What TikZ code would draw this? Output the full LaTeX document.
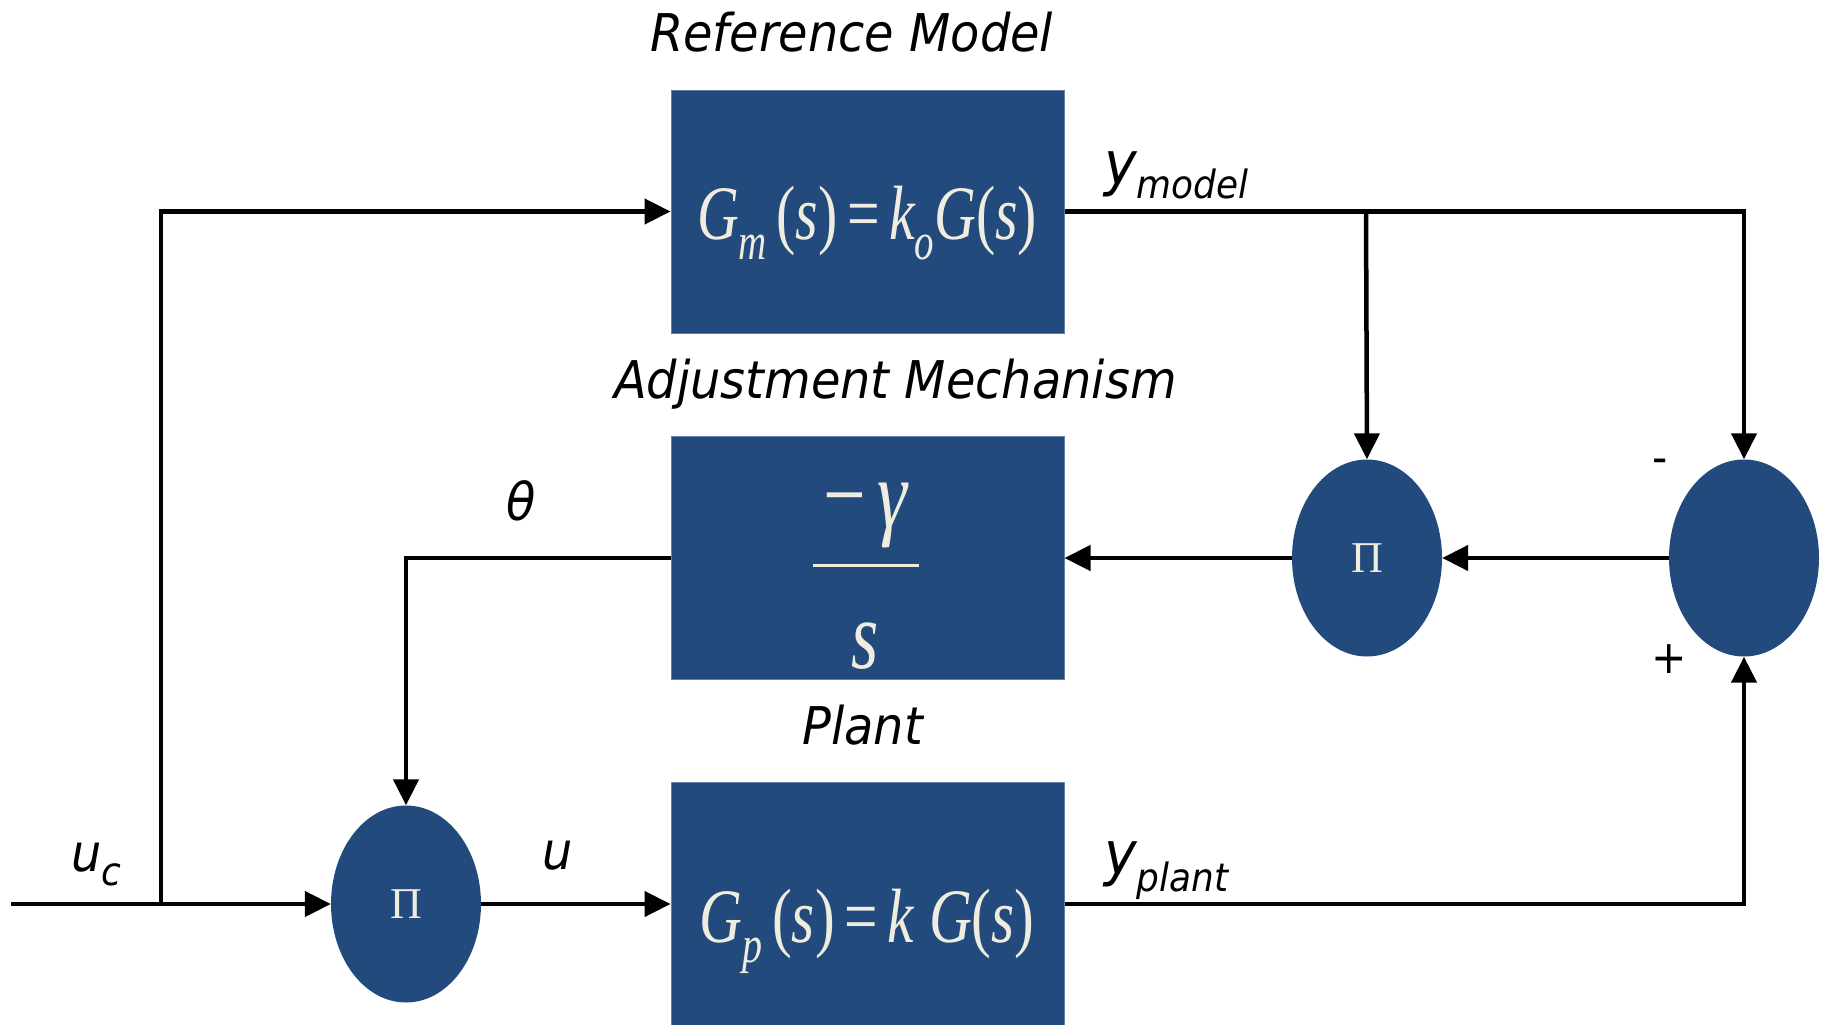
\documentclass[tikz,border=0pt]{standalone}
\usepackage{fontspec}
\usepackage{graphicx}
\usetikzlibrary{arrows.meta,shapes.geometric}
\newfontfamily\labf[FakeStretch=0.92]{DejaVu Sans}
\newfontfamily\tff{Liberation Serif}
\definecolor{boxblue}{HTML}{224A7C}
\definecolor{cream}{HTML}{EFECE0}
\begin{document}
\begin{tikzpicture}[x=1pt,y=-1pt,
  blk/.style={rectangle, fill=boxblue, draw=boxblue!70!white, line width=1pt, minimum width=393pt, minimum height=243pt, inner sep=0pt},
  oval/.style={ellipse, fill=boxblue, minimum width=150pt, minimum height=197pt, inner sep=0pt, text=cream, font=\tff\fontsize{44}{44}\selectfont},
  tftext/.style={text=cream, inner sep=0pt, anchor=base, font=\tff},
  wire/.style={line width=4.5pt, line join=miter},
  conn/.style={wire, -{Triangle[length=26pt,width=25pt]}},
  lab/.style={font=\labf\itshape\fontsize{52}{52}\selectfont, inner sep=0pt},
  sgn/.style={font=\labf\fontsize{46}{46}\selectfont, inner sep=0pt}]

\useasboundingbox (0,0) rectangle (1828,1025);

% blocks
\node[blk] (ref) at (867.5,211.5) {};
\node[blk] (adj) at (867.5,558) {};
\node[blk] (plant) at (867.5,904) {};

\node[tftext] (gm) at (867,239) {\resizebox{340pt}{\height}{\fontsize{77}{77}\selectfont\itshape G\raisebox{-20pt}{\fontsize{52}{52}\selectfont m}\,{\upshape(}s{\upshape)}\,{\upshape=}\,k\raisebox{-20pt}{\fontsize{52}{52}\selectfont o}G{\upshape(}s{\upshape)}}};
\node[tftext] (gp) at (867,942) {\resizebox{335pt}{\height}{\fontsize{77}{77}\selectfont\itshape G\raisebox{-20pt}{\fontsize{52}{52}\selectfont p}\,{\upshape(}s{\upshape)}\,{\upshape=}\,k\ G{\upshape(}s{\upshape)}}};
\node[tftext] (num) at (866,527) {\scalebox{0.78}[1]{\fontsize{97}{97}\selectfont −\hspace{14pt}\textit{γ}}};
\node[tftext] (den) at (865,668) {\scalebox{0.72}[1]{\fontsize{97}{97}\selectfont\textit{s}}};
\draw[cream, line width=3pt] (813,565) -- (919,565);

% ellipses
\node[oval] (lpi) at (406,904) {Π};
\node[oval] (rpi) at (1367,558) {Π};
\node[oval] (sum) at (1744,558) {};

% labels
\node[lab, anchor=base west] (reflab) at (650,52) {Reference Model};
\node[lab, anchor=base west] (adjlab) at (614,398) {Adjustment Mechanism};
\node[lab, anchor=base west] (plantlab) at (802,744) {Plant};
\node[lab, anchor=base west] (ym) at (1104,184) {\fontsize{60}{60}\selectfont y\raisebox{-14pt}{\fontsize{39}{39}\selectfont model}};
\node[lab, anchor=base west] (yp) at (1104,874) {\fontsize{60}{60}\selectfont y\raisebox{-17pt}{\fontsize{39}{39}\selectfont plant}};
\node[lab] (th) at (521,501) {θ};
\node[lab, anchor=base] (ulab) at (558,869) {u};
\node[lab, anchor=base west] (uclab) at (71,871) {u\raisebox{-14pt}{\fontsize{39}{39}\selectfont c}};
\node[sgn] (minus) at (1660,466) {-};
\node[sgn] (plus) at (1669,659) {+};

% connectors
\coordinate (in) at (11,904);
\coordinate (br1) at (161,904);
\coordinate (br2) at (1366,211.5);
\draw[conn] (in) -- (lpi.west);
\draw[conn] (br1) |- (ref.west);
\draw[conn] (lpi.east) -- (plant.west);
\draw[conn] (plant.east) -| (sum.south);
\draw[conn] (ref.east) -| (sum.north);
\draw[conn] (br2) -- (rpi.north);
\draw[conn] (sum.west) -- (rpi.east);
\draw[conn] (rpi.west) -- (adj.east);
\draw[conn] (adj.west) -| (lpi.north);
\end{tikzpicture}
\end{document}
